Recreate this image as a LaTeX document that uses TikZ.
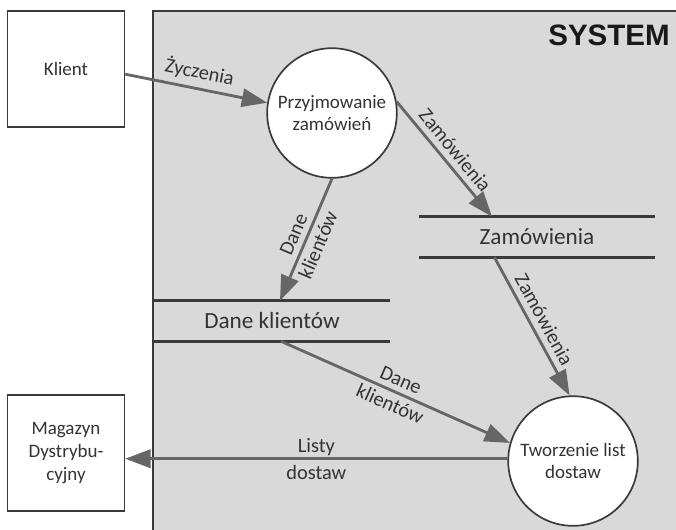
\documentclass[tikz,border=0pt]{standalone}
\usepackage{fontspec}
\setmainfont{Carlito}
\newfontfamily\headfont{Liberation Sans}
\usepackage{tikz}
\usetikzlibrary{ positioning, arrows.meta, calc }
\usepackage{xcolor}
\definecolor{sysfill}{HTML}{D9D9D9}
\definecolor{flow}{HTML}{666666}
\definecolor{edge}{HTML}{3A3A3A}
\definecolor{ink}{HTML}{333333}

\begin{document}
\begin{tikzpicture}[
  x=0.025cm, y=-0.025cm,
  ext/.style={draw=edge, line width=1.1pt, fill=white, text=ink, align=center,
              minimum width=2.925cm, minimum height=2.9cm,
              font=\fontsize{13.5}{16.5}\selectfont},
  proc/.style={circle, draw=edge, line width=1.2pt, fill=white, text=ink,
               align=center, inner sep=0pt, minimum size=3.24cm,
               font=\fontsize{13.5}{15.6}\selectfont},
  store/.style={minimum width=5.9cm, minimum height=1cm, text=ink,
                font=\fontsize{16.5}{18}\selectfont},
  storeline/.style={draw=edge, line width=1.8pt},
  fl/.style={-{Triangle[length=18pt, width=13pt]}, line width=2pt, flow},
  lbl/.style={sloped, align=center, text=ink, inner sep=4pt,
              font=\fontsize{14.5}{19}\selectfont},
]
  \useasboundingbox (0,0) rectangle (676,529);
  \fill[white] (0,0) rectangle (676,529);
  % system boundary
  \draw[edge, line width=1.2pt, fill=sysfill] (153,11) rectangle (690,545);
  \node[anchor=north east, inner sep=0pt, text=black!90,
        font=\headfont\bfseries\fontsize{21}{24}\selectfont] (sys) at (670,25) {SYSTEM};

  % external entities
  \node[ext] (klient) at (66,69) {Klient};
  \node[ext] (mag) at (66,453) {Magazyn\\Dystrybu-\\cyjny};

  % processes
  \node[proc] (recv) at (332,113) {Przyjmowanie\\zamówień};
  \node[proc] (make) at (573,461) {Tworzenie list\\dostaw};

  % data stores
  \node[store] (zam) at (537,237) {Zamówienia};
  \node[store] (dane) at (272,321) {Dane klientów};
  \foreach \s in {zam, dane}
    \draw[storeline] (\s.north west) -- (\s.north east)
                     (\s.south west) -- (\s.south east);

  % flows
  \draw[fl] (klient.-5) -- node[lbl, above] {Życzenia} (recv.171);
  \draw[fl] (recv.10) -- node[lbl, above] {Zamówienia}
    ($(zam.north west)!0.31!(zam.north east)$);
  \draw[fl] (recv.south) -- node[lbl] {Dane\\klientów} ($(dane.north)+(8,0)$);
  \draw[fl] ($(zam.south west)!0.32!(zam.south east)$) -- node[lbl, above] {Zamówienia}
    (make.93);
  \draw[fl] ($(dane.south)+(9,0)$) -- node[lbl] {Dane\\klientów} (make.164);
  \draw[fl] (make.178) -- node[lbl] {Listy\\dostaw} (make.178 -| mag.east);
\end{tikzpicture}
\end{document}
